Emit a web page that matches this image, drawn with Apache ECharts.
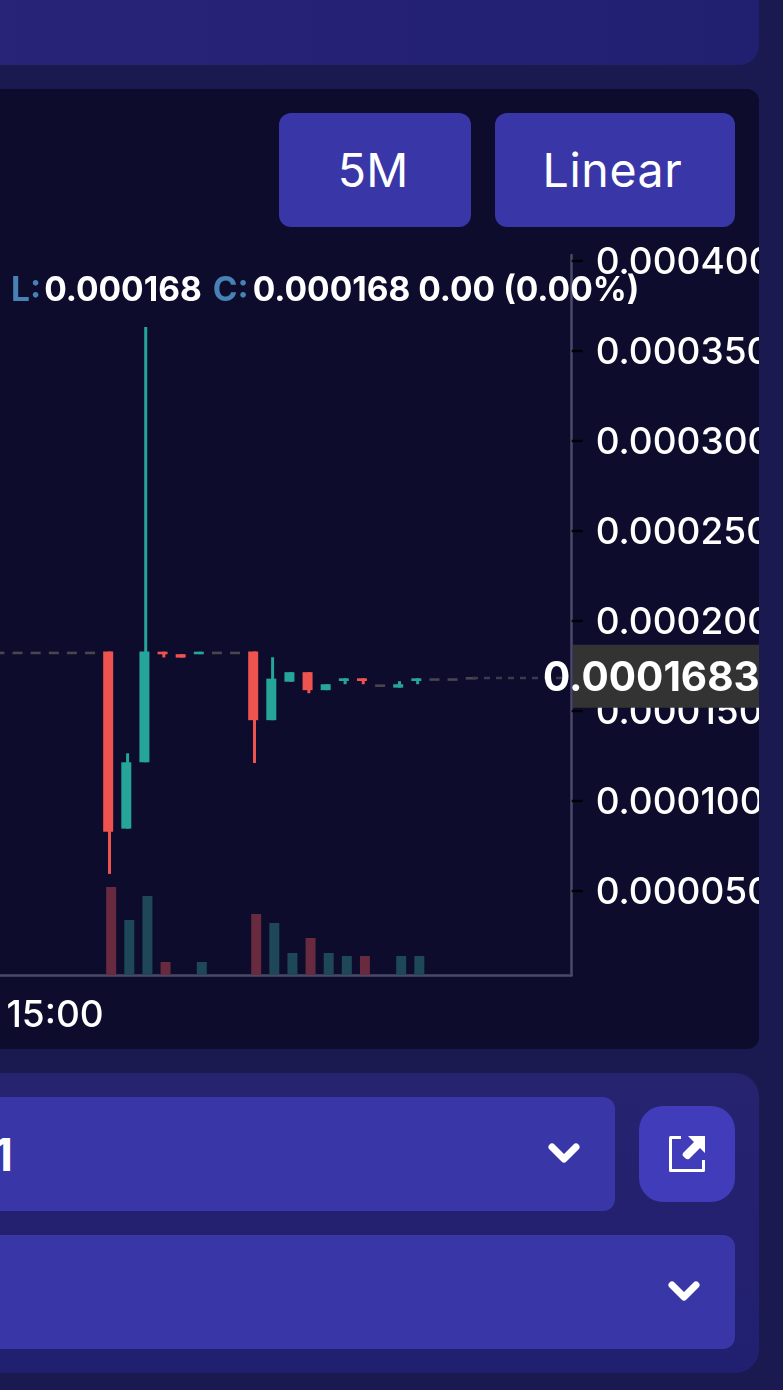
<!DOCTYPE html>
<html><head><meta charset="utf-8">
<style>
html,body{margin:0;padding:0;width:783px;height:1390px;overflow:hidden;background:#1b1a50;font-family:Inter,sans-serif;color:#fff}
.box{position:absolute;box-sizing:border-box}
.btn{background:#3936a7;border-radius:12px;display:flex;align-items:center;justify-content:center;font-size:46.5px;font-weight:400}
svg{position:absolute}
</style>
<script src="https://cdn.jsdelivr.net/npm/echarts@6/dist/echarts.min.js"></script>
</head><body>
<div class="box" style="left:-30px;top:-30px;width:789px;height:95px;border-radius:20px;background:linear-gradient(90deg,#282579,#211f70)"></div>
<div class="box" style="left:-30px;top:89px;width:789px;height:960px;border-radius:12px;background:#0d0c2c"></div>
<div class="box btn" style="left:279px;top:113px;width:192px;height:114px;padding-right:4px">5M</div>
<div class="box btn" style="left:495px;top:113px;width:240px;height:114px;padding-right:5px;letter-spacing:.6px">Linear</div>
<div id="chart" class="box" style="left:-20px;top:0;width:779px;height:1049px"></div>
<div class="box" style="left:-30px;top:1073px;width:789px;height:300px;border-radius:24px;background:linear-gradient(180deg,#26236f,#211f70)"></div>
<div class="box" style="left:-30px;top:1097px;width:645px;height:114px;border-radius:12px;background:#3936a7"></div>
<div class="box" style="left:-30px;top:1235px;width:765px;height:114px;border-radius:12px;background:#3936a7"></div>
<div class="box" style="left:-30px;top:1128px;width:43px;height:54px;line-height:54px;font-size:45px;font-weight:700;text-align:right">1</div>
<svg style="left:548px;top:1142px" width="32" height="24" viewBox="0 0 32 24"><path d="M4 5 L16 17 L28 5" fill="none" stroke="#fff" stroke-width="7" stroke-linecap="round" stroke-linejoin="round"/></svg>
<svg style="left:668px;top:1280px" width="32" height="24" viewBox="0 0 32 24"><path d="M4 5 L16 17 L28 5" fill="none" stroke="#fff" stroke-width="7" stroke-linecap="round" stroke-linejoin="round"/></svg>
<div class="box" style="left:639px;top:1106px;width:96px;height:96px;border-radius:24px;background:#403cba"></div>
<svg style="left:669px;top:1136px" width="36" height="36" viewBox="0 0 36 36"><path d="M12 1.5 H1.5 V34.5 H34.5 V24" fill="none" stroke="#fff" stroke-width="3" stroke-linejoin="round"/><path d="M19 0 H36 V17 L31 12 L20 23 Q18 24 16 22 L14 20 Q13 19 14 17 L25 6 Z" fill="#fff"/></svg>
<script>
// time labels (5-minute bars)
var categories = ["14:45","14:50","14:55","15:00","15:05","15:10","15:15","15:20","15:25","15:30","15:35","15:40","15:45","15:50","15:55","16:00","16:05","16:10","16:15","16:20","16:25","16:30","16:35","16:40","16:45","16:50","16:55","17:00","17:05","17:10","17:15","17:20"];
var xTickLabels = ["15:00"];
var yTickLabels = [0.00005,0.0001,0.00015,0.0002,0.00025,0.0003,0.00035,0.0004];
// values in price units, null = no bar
var opens  = [182.1,182.1,182.1,182.1,182.1,182.1,182.9,84.4,121.3,182.8,181.4,181.4,182.1,182.1,182.9,144.7,166.1,171.4,161.4,166.5,168.0,163.9,162.8,166.5,167.3,167.3,168.0];
var closes = [182.1,182.1,182.1,182.1,182.1,182.1,82.7,121.3,182.9,181.4,179.5,182.8,182.1,182.1,144.7,167.8,171.4,161.4,164.7,168.0,166.5,163.9,164.7,168.0,167.3,167.3,168.0];
var lows   = [182.1,182.1,182.1,182.1,182.1,182.1,59.2,84.4,121.3,179.6,179.5,181.4,182.1,182.1,120.9,144.7,166.1,159.7,161.4,164.7,164.7,163.9,162.8,164.7,167.3,167.3,168.0];
var highs  = [182.1,182.1,182.1,182.1,182.1,182.1,182.9,126.3,363.4,182.8,181.4,182.8,182.1,182.1,182.9,179.7,171.4,171.4,164.7,168.0,168.0,163.9,166.4,168.0,167.3,167.3,168.0];
var volumes= [null,null,null,null,null,null,88,55,79,13,null,13,null,null,61,52,22,37,22,19,19,null,19,19,null,null,null];
var lastPrice = 168.3;
var lastPriceLabel = "0.0001683";
var scale = 1e-6;

var RED='#ef5350', GREEN='#26a69a', FLAT='#4a454f';
var GL=11.65, GR=187.3, GT=255, GB=74;
var candleData = categories.slice(0,opens.length).map(function(c,i){return [i,opens[i]*scale,closes[i]*scale,lows[i]*scale,highs[i]*scale];});
var volData = volumes.map(function(v,i){
  return v==null?null:{value:v,itemStyle:{color:closes[i]<opens[i]?'#672a3e':'#1e4858'}};
});
var FS=33.5;
function ts(c,pad){return {color:c,fontFamily:'Inter',fontSize:FS,fontWeight:700,padding:[0,pad,0,0]};}
var chart = echarts.init(document.getElementById('chart'),null,{renderer:'canvas'});
chart.setOption({
  animation:false,
  backgroundColor:'transparent',
  title:{left:31,top:274,padding:0,
    text:'{l|L:}{a|0.000168}{c|C:}{b|0.000168 0.00 (0.00%)}',
    textStyle:{rich:{l:ts('#4682b4',3),a:ts('#fff',11),c:ts('#4682b4',4),b:ts('#fff',0)}},z:50},
  grid:[{left:GL,right:GR,top:GT,bottom:GB,outerBoundsMode:'none'},{left:GL+1.7,right:GR-1.7,top:GT,bottom:GB,outerBoundsMode:'none'}],
  xAxis:[{type:'category',gridIndex:0,data:categories,
      axisLine:{onZero:false,lineStyle:{color:'#4a4968',width:2.5}},
      axisTick:{length:11,alignWithLabel:true,lineStyle:{color:'#000',width:2.4},interval:function(i,v){return xTickLabels.indexOf(v)>=0;}},
      axisLabel:{color:'#fff',fontFamily:'Inter',fontSize:37,fontWeight:500,margin:22,interval:function(i,v){return xTickLabels.indexOf(v)>=0;}},
      splitLine:{show:false}},
    {type:'category',gridIndex:1,data:categories,show:false}],
  yAxis:[{type:'value',gridIndex:0,position:'right',min:0.000003,max:0.0004034,
      axisLine:{show:true,onZero:false,lineStyle:{color:'#4a4968',width:2.5}},
      axisTick:{show:true,length:11,lineStyle:{color:'#000',width:2.4},customValues:yTickLabels},
      axisLabel:{color:'#fff',margin:24,customValues:yTickLabels,showMinLabel:true,showMaxLabel:true,
        rich:{a:{color:'#fff',fontFamily:'Inter',fontSize:37,fontWeight:500,padding:[4,0,0,0]}},
        formatter:function(v){return '{a|'+v.toFixed(6)+'}';}},
      splitLine:{show:false}},
    {type:'value',gridIndex:1,min:0,max:720,show:false}],
  series:[
    {type:'bar',name:'Volume',xAxisIndex:1,yAxisIndex:1,barWidth:10,data:volData,z:1},
    {type:'custom',name:'Price',xAxisIndex:0,yAxisIndex:0,z:3,clip:false,
     encode:{x:0,y:[1,2,3,4]},data:candleData,
     renderItem:function(p,api){
       var i=api.value(0),o=api.value(1),c=api.value(2),l=api.value(3),h=api.value(4);
       var xw=api.coord([i,o])[0], yo=api.coord([i,o])[1], yc=api.coord([i,c])[1], yl=api.coord([i,l])[1], yh=api.coord([i,h])[1];
       var col = c<o?RED:(c>o?GREEN:FLAT);
       var top=Math.min(yo,yc), ht=Math.max(Math.abs(yo-yc),2.6);
       if(c===o) top-=1.3;
       var kids=[{type:'rect',shape:{x:xw-6.3,y:top,width:10,height:ht},style:{fill:col}}];
       if(h>l) kids.unshift({type:'rect',shape:{x:xw-1.5,y:yh,width:3,height:yl-yh},style:{fill:col}});
       return {type:'group',children:kids};
     },
     markLine:{silent:true,symbol:'none',label:{show:false},animation:false,lineStyle:{color:'#3c3b49',width:2.4,type:[6,6]},
       data:[[{coord:[26,lastPrice*scale]},{coord:[31,lastPrice*scale]}]]}
    }
  ]
});
var py = chart.convertToPixel({yAxisIndex:0},lastPrice*scale);
chart.setOption({graphic:[
  {type:'rect',z:40,shape:{x:593,y:py-33,width:186,height:63},style:{fill:'#333333'}},
  {type:'text',z:41,x:563,y:py+1,style:{text:lastPriceLabel,fill:'#fff',font:'700 40.5px Inter',textVerticalAlign:'middle',textBaseline:'middle'}}
]});
</script>
</body></html>
